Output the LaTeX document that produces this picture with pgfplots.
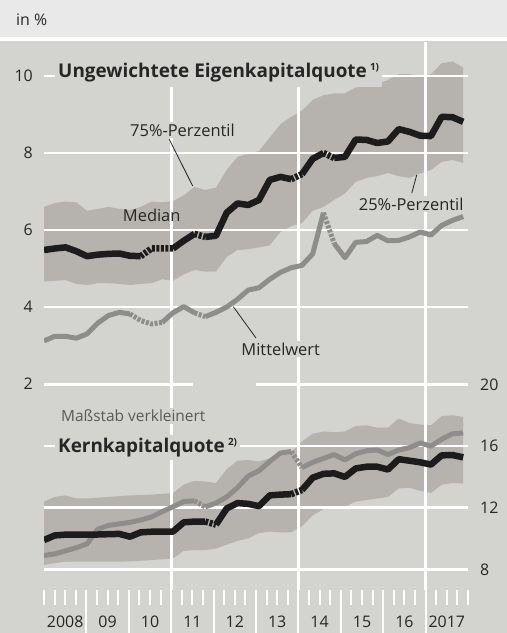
\documentclass[border=0pt]{standalone}
\usepackage{fontspec}
\setmainfont{Open Sans}
\usepackage{pgfplots}
\pgfplotsset{compat=1.18}
\usepackage{pgfplotstable}

\definecolor{bg}{HTML}{D3D3CF}
\definecolor{topbg}{HTML}{E9E9E9}
\definecolor{band}{HTML}{B6B3AF}
\definecolor{med}{HTML}{1C1C1C}
\definecolor{mean}{HTML}{8E8D8B}
\definecolor{txt}{HTML}{262626}

% Ungewichtete Eigenkapitalquote (quarterly from 2008 Q1): median, mean
\pgfplotstableread{
k med mean
0 5.48 3.12
1 5.52 3.24
2 5.55 3.24
3 5.45 3.19
4 5.32 3.30
5 5.36 3.58
6 5.38 3.78
7 5.39 3.86
8 5.33 3.82
9 5.32 3.65
10 5.52 3.56
11 5.52 3.60
12 5.52 3.85
13 5.72 4.01
14 5.90 3.85
15 5.82 3.75
16 5.85 3.86
17 6.45 4.00
18 6.69 4.20
19 6.65 4.44
20 6.78 4.50
21 7.30 4.72
22 7.38 4.90
23 7.32 5.02
24 7.45 5.08
25 7.85 5.38
26 8.00 6.45
27 7.87 5.65
28 7.90 5.28
29 8.35 5.68
30 8.34 5.70
31 8.26 5.86
32 8.30 5.72
33 8.62 5.73
34 8.55 5.82
35 8.45 5.95
36 8.44 5.87
37 8.94 6.12
38 8.93 6.25
39 8.81 6.35
}\topdata
% 75%-percentile forward, then 25%-percentile back
\pgfplotstableread{
k v
0 6.60
1 6.70
2 6.74
3 6.72
4 6.50
5 6.55
6 6.60
7 6.55
8 6.52
9 6.60
10 6.74
11 6.72
12 6.75
13 6.90
14 7.12
15 7.04
16 7.10
17 7.56
18 7.90
19 7.98
20 8.05
21 8.40
22 8.75
23 8.94
24 9.10
25 9.38
26 9.50
27 9.55
28 9.55
29 9.70
30 9.75
31 9.78
32 9.90
33 10.05
34 10.05
35 9.98
36 10.05
37 10.33
38 10.38
39 10.22
39 7.74
38 7.82
37 7.77
36 7.56
35 7.47
34 7.35
33 7.40
32 7.48
31 7.40
30 7.35
29 7.25
28 6.95
27 6.78
26 6.60
25 6.50
24 6.18
23 6.10
22 5.95
21 5.60
20 5.55
19 5.50
18 5.48
17 5.30
16 4.92
15 4.92
14 4.96
13 4.85
12 4.68
11 4.72
10 4.62
9 4.60
8 4.57
7 4.60
6 4.62
5 4.62
4 4.57
3 4.60
2 4.70
1 4.68
0 4.66
}\topband

% Kernkapitalquote: median, mean
\pgfplotstableread{
k med mean
0 9.90 8.90
1 10.20 9.00
2 10.25 9.20
3 10.25 9.40
4 10.25 9.65
5 10.26 10.60
6 10.28 10.85
7 10.30 10.95
8 10.12 11.05
9 10.40 11.20
10 10.44 11.40
11 10.44 11.75
12 10.45 12.06
13 11.05 12.40
14 11.10 12.45
15 11.10 12.05
16 10.90 12.30
17 11.95 12.70
18 12.30 13.30
19 12.25 14.05
20 12.10 14.40
21 12.80 15.00
22 12.85 15.55
23 12.88 15.65
24 13.15 14.60
25 13.95 14.95
26 14.20 15.20
27 14.23 15.45
28 14.00 15.10
29 14.55 15.50
30 14.66 15.70
31 14.66 15.75
32 14.48 15.45
33 15.15 15.75
34 15.05 15.90
35 14.95 16.20
36 14.80 16.00
37 15.40 16.45
38 15.42 16.80
39 15.27 16.85
}\botdata
\pgfplotstableread{
k v
0 12.40
1 12.70
2 12.80
3 12.60
4 12.60
5 12.65
6 12.70
7 12.75
8 12.80
9 12.82
10 12.85
11 12.90
12 12.95
13 13.50
14 13.75
15 13.70
16 13.60
17 14.50
18 15.05
19 15.10
20 15.00
21 15.20
22 15.40
23 15.60
24 16.30
25 16.80
26 16.95
27 16.90
28 16.95
29 17.30
30 17.35
31 17.20
32 17.20
33 17.80
34 17.50
35 17.40
36 17.35
37 17.95
38 18.00
39 17.90
39 13.58
38 13.60
37 13.50
36 12.95
35 13.10
34 13.30
33 13.25
32 12.70
31 12.60
30 12.50
29 12.40
28 12.07
27 12.07
26 11.90
25 11.50
24 10.80
23 10.40
22 10.40
21 10.45
20 10.35
19 10.00
18 9.85
17 9.60
16 9.35
15 9.25
14 9.25
13 9.20
12 8.70
11 8.65
10 8.60
9 8.55
8 8.52
7 8.50
6 8.50
5 8.50
4 8.50
3 8.50
2 8.50
1 8.40
0 8.28
}\botband

\tikzset{tlab/.style={font=\fontsize{16}{18}\selectfont, text=txt}}
\pgfplotsset{
  panel/.style={at={(44bp,-590bp)}, anchor=south west, scale only axis,
    width=424bp, height=548bp, xmin=2008, xmax=2018,
    axis line style={draw=none}},
  toppanel/.style={panel, ymin=-3.35, ymax=10.883},
  botpanel/.style={panel, ymin=6.656, ymax=42.24},
  gridw/.style={grid style={white, line width=2.7bp}},
  medl/.style={color=med, line width=6.5bp, line join=round},
  meanl/.style={color=mean, line width=5bp, line join=round},
  dsh/.style={dash pattern=on 3bp off 1.5bp},
}
% one piece of a series, by point index
\newcommand{\seg}[4]{\addplot[#1, restrict expr to domain={\coordindex}{#2}]
  table[x expr=2008+\thisrow{k}*0.2535, y=#3]{#4};}

\begin{document}
\begin{tikzpicture}
\useasboundingbox (0,0) rectangle (507bp,-633bp);
\fill[topbg] (0,0) rectangle (507bp,-37bp);
\fill[white] (0,-37bp) rectangle (507bp,-41bp);
\fill[bg] (0,-41bp) rectangle (507bp,-633bp);
\node[anchor=base west, tlab, inner sep=0pt] at (16bp,-25bp) {in \%};

% top band + time axis
\begin{axis}[toppanel,
  ytick=\empty, xtick pos=left, tick align=outside,
  xtick={2008.5,2009.5,2010.5,2011.5,2012.5,2013.5,2014.5,2015.5,2016.5,2017.5},
  xticklabels={2008,09,10,11,12,13,14,15,16,2017},
  major tick length=0pt, minor tick length=15bp,
  minor xtick={2008,2008.25,2008.5,2008.75,2009.25,2009.5,2009.75,
    2010.25,2010.5,2010.75,2011.25,2011.5,2011.75,2012.25,2012.5,2012.75,
    2013.25,2013.5,2013.75,2014.25,2014.5,2014.75,2015.25,2015.5,2015.75,
    2016.25,2016.5,2016.75,2017.25,2017.5,2017.75,2018},
  extra x ticks={2009,2010,2011,2012,2013,2014,2015,2016,2017},
  extra x tick labels={},
  extra x tick style={major tick length=43bp},
  tick style={white, line width=2bp},
  xticklabel style={tlab, anchor=base, inner sep=0pt, yshift=-37bp}]
\addplot[fill=band, draw=none] table[x expr=2008+\thisrow{k}*0.2535, y=v]{\topband};
\end{axis}

% bottom band
\begin{axis}[botpanel, hide axis]
\addplot[fill=band, draw=none] table[x expr=2008+\thisrow{k}*0.2535, y=v]{\botband};
\end{axis}

% top grid and lines
\begin{axis}[toppanel, gridw,
  xtick={2011,2014,2017}, xticklabels={}, xmajorgrids,
  ytick={2,4,6,8,10}, ymajorgrids, ytick pos=left,
  major tick length=0pt,
  /pgf/number format/assume math mode=true,
  yticklabel style={tlab, anchor=east, inner sep=0pt, xshift=-11bp}]
\seg{meanl}{0:8}{mean}{\topdata}
\seg{meanl,dsh}{8:11}{mean}{\topdata}
\seg{meanl}{11:14}{mean}{\topdata}
\seg{meanl,dsh}{14:15}{mean}{\topdata}
\seg{meanl}{15:26}{mean}{\topdata}
\seg{meanl,dsh}{26:27}{mean}{\topdata}
\seg{meanl}{27:39}{mean}{\topdata}
\seg{medl}{0:9}{med}{\topdata}
\seg{medl,dsh}{9:12}{med}{\topdata}
\seg{medl}{12:14}{med}{\topdata}
\seg{medl,dsh}{14:15}{med}{\topdata}
\seg{medl}{15:23}{med}{\topdata}
\seg{medl,dsh}{23:24}{med}{\topdata}
\seg{medl}{24:26}{med}{\topdata}
\seg{medl,dsh}{26:27}{med}{\topdata}
\seg{medl}{27:39}{med}{\topdata}
\end{axis}

% bottom grid and lines
\begin{axis}[botpanel, gridw,
  xtick=\empty,
  ytick={8,12,16,20}, ymajorgrids, ytick pos=right, yticklabel pos=right,
  major tick length=0pt,
  /pgf/number format/assume math mode=true,
  yticklabel style={tlab, anchor=west, inner sep=0pt, xshift=12bp}]
\seg{meanl}{0:14}{mean}{\botdata}
\seg{meanl,dsh}{14:15}{mean}{\botdata}
\seg{meanl}{15:23}{mean}{\botdata}
\seg{meanl,dsh}{23:24}{mean}{\botdata}
\seg{meanl}{24:39}{mean}{\botdata}
\seg{medl}{0:15}{med}{\botdata}
\seg{medl,dsh}{15:16}{med}{\botdata}
\seg{medl}{16:23}{med}{\botdata}
\seg{medl,dsh}{23:24}{med}{\botdata}
\seg{medl}{24:39}{med}{\botdata}
\end{axis}

% break in the 2/20 line
\fill[bg] (193bp,-381bp) rectangle (256bp,-389bp);

% connectors
\draw[txt, line width=0.8bp] (169.3bp,-139.3bp) -- (192.7bp,-186bp);
\draw[txt, line width=0.8bp] (416.7bp,-175bp) -- (411.7bp,-193.3bp);
\draw[txt, line width=0.8bp] (233.3bp,-306.7bp) -- (256bp,-338bp);

% labels
\node[anchor=base west, fill=bg, inner xsep=3bp, inner ysep=0pt,
  text height=35bp, text depth=10bp, text=txt,
  font=\fontsize{19}{20}\selectfont\bfseries] at (55bp,-77bp)
  {Ungewichtete Eigenkapitalquote\,\raisebox{7bp}{\fontsize{10}{10}\selectfont 1)}};
\node[anchor=base, fill=bg, inner sep=2bp, text=txt, font=\fontsize{16.5}{18}\selectfont]
  at (182.5bp,-136bp) {75\%-Perzentil};
\node[anchor=base, inner sep=0pt, text=txt, font=\fontsize{16.5}{18}\selectfont]
  at (151.7bp,-221.7bp) {Median};
\node[anchor=base, fill=bg, inner sep=2bp, text=txt, font=\fontsize{16.5}{18}\selectfont]
  at (411.2bp,-210bp) {25\%-Perzentil};
\node[anchor=base, fill=bg, inner sep=2bp, text=txt, font=\fontsize{16.5}{18}\selectfont]
  at (280.7bp,-355bp) {Mittelwert};
\node[anchor=base west, fill=bg, inner sep=2bp, text=black!65, font=\fontsize{15.5}{17}\selectfont]
  at (59bp,-421.7bp) {Maßstab verkleinert};
\node[anchor=base west, fill=bg, inner xsep=3bp, inner ysep=3bp, text=txt,
  font=\fontsize{19}{20}\selectfont\bfseries] at (55bp,-452.7bp)
  {Kernkapitalquote\,\raisebox{7bp}{\fontsize{10}{10}\selectfont 2)}};
\end{tikzpicture}
\end{document}
